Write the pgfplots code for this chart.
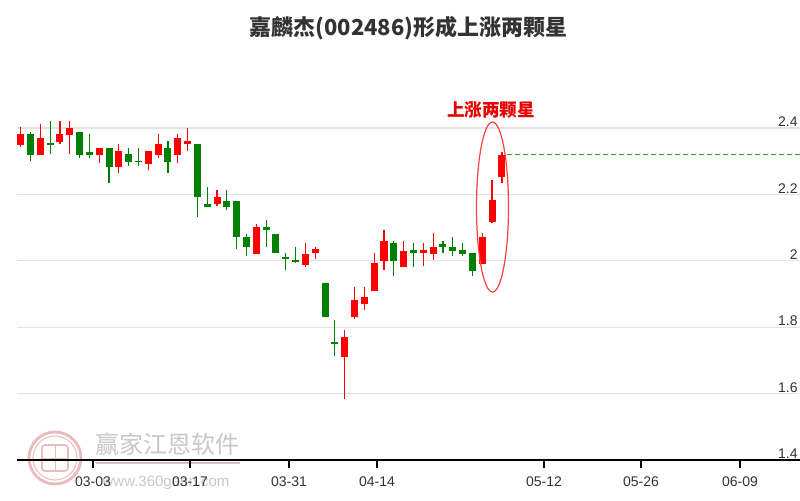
\documentclass[border=0pt]{standalone}
\usepackage{fontspec}
\setmainfont{Liberation Sans}
\newfontfamily\cjk{Noto Sans CJK SC}
\usepackage{pgfplots}
\pgfplotsset{compat=1.18}
\usepackage{pgfplotstable}
\definecolor{cred}{HTML}{FF0000}
\definecolor{cgreen}{HTML}{008000}
\definecolor{ctext}{HTML}{333333}
\definecolor{cgrid}{HTML}{E2E2E2}
\definecolor{cdash}{HTML}{3A9A3A}
\definecolor{cwm}{HTML}{C8C8C8}
\definecolor{cwmr}{HTML}{EBBABA}

% x o h l c   (x in chart units)
\pgfplotstableread{
x o h l c
20.7 2.349 2.402 2.342 2.382
40.3 2.319 2.412 2.319 2.369
60.0 2.357 2.421 2.351 2.381
69.8 2.379 2.421 2.322 2.401
99.3 2.319 2.341 2.294 2.341
118.9 2.282 2.351 2.265 2.331
148.4 2.292 2.331 2.273 2.331
158.2 2.319 2.381 2.309 2.351
177.8 2.319 2.381 2.296 2.369
187.6 2.351 2.401 2.331 2.361
217.1 2.171 2.213 2.165 2.191
256.4 2.020 2.111 2.020 2.103
305.5 1.987 2.053 1.982 2.020
315.3 2.024 2.042 2.005 2.035
344.7 1.709 1.792 1.583 1.771
354.6 1.830 1.920 1.824 1.882
364.4 1.870 1.920 1.852 1.892
374.2 1.910 2.023 1.910 1.992
384.0 2.000 2.093 1.972 2.061
403.7 1.980 2.061 1.980 2.030
423.3 2.023 2.053 1.984 2.033
433.1 2.020 2.083 2.002 2.042
482.2 1.990 2.083 1.990 2.073
492.0 2.118 2.243 2.113 2.183
501.9 2.251 2.329 2.233 2.319
}\redtab

\pgfplotstableread{
x o h l c
30.5 2.381 2.389 2.302 2.319
50.2 2.354 2.421 2.322 2.349
79.6 2.389 2.389 2.311 2.319
89.4 2.329 2.381 2.311 2.319
109.1 2.341 2.341 2.233 2.282
128.7 2.321 2.341 2.286 2.298
138.5 2.301 2.341 2.286 2.297
168.0 2.341 2.361 2.265 2.298
197.5 2.351 2.351 2.133 2.191
207.3 2.171 2.221 2.163 2.163
226.9 2.181 2.213 2.153 2.161
236.7 2.181 2.181 2.035 2.071
246.5 2.073 2.081 2.014 2.041
266.2 2.103 2.123 2.042 2.093
276.0 2.081 2.081 2.023 2.023
285.8 2.010 2.023 1.972 2.004
295.6 2.003 2.042 1.994 1.997
325.1 1.932 1.932 1.830 1.830
334.9 1.754 1.822 1.713 1.748
393.8 2.053 2.061 1.954 2.000
413.5 2.033 2.053 1.982 2.023
442.9 2.051 2.061 2.024 2.041
452.8 2.041 2.073 2.014 2.030
462.6 2.033 2.053 2.014 2.020
472.4 2.023 2.023 1.954 1.970
}\greentab

\begin{document}
\begin{tikzpicture}
\path[use as bounding box] (0,0) rectangle (400pt,250pt);
\fill[white] (0,0) rectangle (400pt,250pt);
% watermark
\draw[cwmr, line width=1.4pt] (27.5pt,21pt) circle (13pt);
\draw[cwmr, line width=0.5pt] (27.5pt,21pt) circle (11pt);
\draw[cwmr, line width=0.8pt, rounded corners=1.5pt] (21pt,14.5pt) rectangle (34pt,27.5pt);
\draw[cwmr, line width=0.5pt] (27.5pt,14.5pt) -- (27.5pt,27.5pt) (21pt,21pt) -- (34pt,21pt);
\node[cwm, font=\cjk\fontsize{12}{12}\selectfont] at (84pt,28pt) {赢家江恩软件};
\draw[cwmr!70!cwm, line width=0.6pt] (48pt,18.5pt) -- (120pt,18.5pt);
\node[cwm, font=\fontsize{7.5}{8}\selectfont] at (83pt,8.5pt) {www.360gann.com};
% title
\node[ctext, font=\cjk\bfseries\fontsize{11}{12}\selectfont] at (204.3pt,236pt) {嘉麟杰(002486)形成上涨两颗星};
\begin{axis}[
  at={(8.5pt,20pt)}, anchor=south west,
  scale only axis, width=391.5pt, height=200pt,
  xmin=17, xmax=800, ymin=1.4, ymax=2.6048,
  clip=false,
  axis x line*=bottom, axis y line*=right,
  x axis line style={-, black, line width=0.6pt},
  y axis line style={draw=none},
  xtick={93,190,289,377,544,641,740},
  xticklabels={03-03,03-17,03-31,04-14,05-12,05-26,06-09},
  ytick={1.4,1.6,1.8,2,2.2,2.4},
  yticklabels={1.4,1.6,1.8,2,2.2,2.4},
  xtick style={black, line width=0.6pt},
  ytick style={draw=none},
  tick align=outside,
  major tick length=4pt,
  ymajorgrids, grid style={cgrid, line width=0.6pt},
  xticklabel style={ctext, font=\fontsize{7}{8}\selectfont, yshift=-1pt},
  yticklabel style={ctext, font=\fontsize{7}{8}\selectfont, anchor=south east, inner sep=0.5pt, xshift=-4.5pt},
  /pgf/number format/assume math mode=true,
]
% wicks
\addplot[draw=none, mark=none, error bars/.cd, y dir=plus, y explicit, error mark=none,
  error bar style={draw=cred, line width=0.6pt}]
  table[x=x, y=l, y error expr=\thisrow{h}-\thisrow{l}] {\redtab};
\addplot[draw=none, mark=none, error bars/.cd, y dir=plus, y explicit, error mark=none,
  error bar style={draw=cgreen, line width=0.6pt}]
  table[x=x, y=l, y error expr=\thisrow{h}-\thisrow{l}] {\greentab};
% bodies
\addplot[draw=none, mark=none, error bars/.cd, y dir=plus, y explicit, error mark=none,
  error bar style={draw=cred, line width=3.5pt}]
  table[x=x, y=o, y error expr=\thisrow{c}-\thisrow{o}] {\redtab};
\addplot[draw=none, mark=none, error bars/.cd, y dir=plus, y explicit, error mark=none,
  error bar style={draw=cgreen, line width=3.5pt}]
  table[x=x, y=c, y error expr=\thisrow{o}-\thisrow{c}] {\greentab};
% last close dashed line
\addplot[cdash, line width=0.6pt, dash pattern=on 2.5pt off 1.5pt] coordinates {(507,2.319) (800,2.319)};
% annotation
\draw[cred!75!white, line width=0.6pt] (axis cs:492.5,2.162) ellipse [x radius=8pt, y radius=42.5pt];
\node[text=cred!90!black, font=\cjk\bfseries\fontsize{8.8}{9}\selectfont] at (axis cs:491,2.454) {上涨两颗星};
\end{axis}
\end{tikzpicture}
\end{document}
